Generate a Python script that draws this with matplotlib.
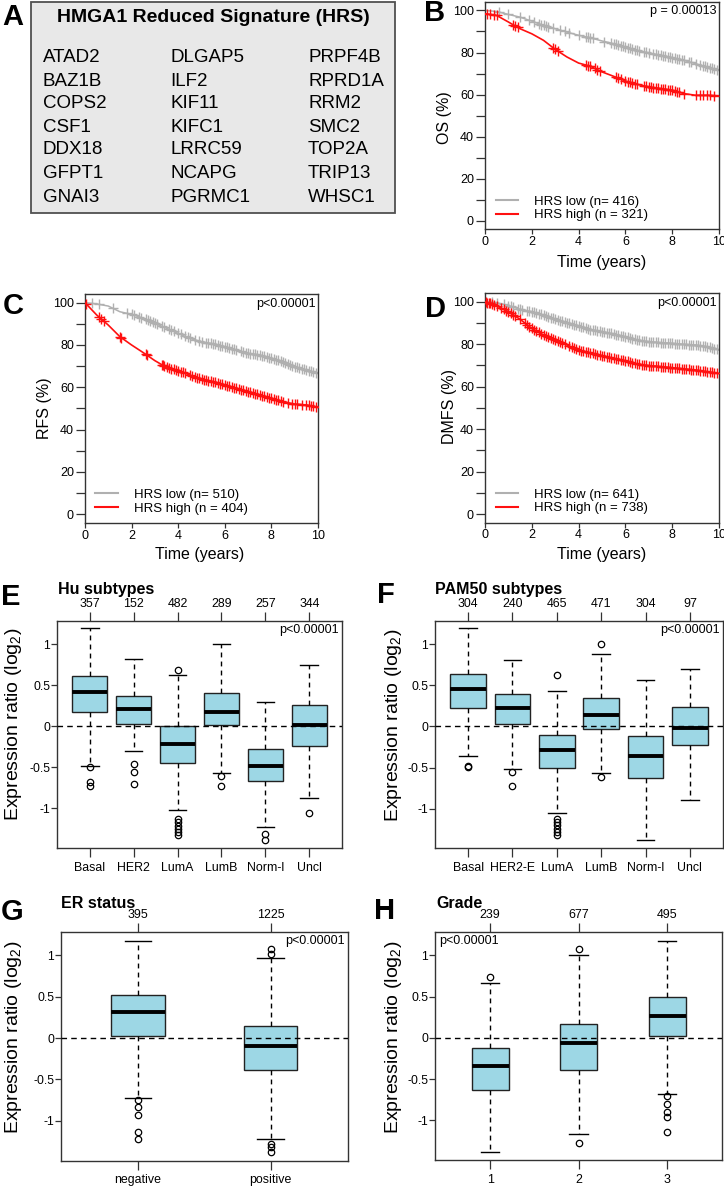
import matplotlib
matplotlib.use('Agg')
import matplotlib.pyplot as plt
import numpy as np
from matplotlib.lines import Line2D
from matplotlib.patches import Rectangle

plt.rcParams['font.family'] = ['Liberation Sans', 'DejaVu Sans']
plt.rcParams['mathtext.fontset'] = 'custom'
plt.rcParams['mathtext.rm'] = 'Liberation Sans'
plt.rcParams['mathtext.it'] = 'Liberation Sans:italic'

# ---------------- data ----------------
hrs_title = "HMGA1 Reduced Signature (HRS)"
genes_col1 = ["ATAD2", "BAZ1B", "COPS2", "CSF1", "DDX18", "GFPT1", "GNAI3"]
genes_col2 = ["DLGAP5", "ILF2", "KIF11", "KIFC1", "LRRC59", "NCAPG", "PGRMC1"]
genes_col3 = ["PRPF4B", "RPRD1A", "RRM2", "SMC2", "TOP2A", "TRIP13", "WHSC1"]

km_time = [0, 0.5, 1, 1.5, 2, 2.5, 3, 3.5, 4, 4.5, 5, 5.5, 6, 6.5, 7, 7.5, 8, 8.5, 9, 9.5, 10]

os_low = [100, 99.5, 98.1, 96.8, 94.9, 92.9, 91.3, 89.7, 88.2, 87.0, 85.5, 84.2, 82.6, 81.0, 79.8, 78.7, 77.6, 76.3, 74.7, 73.1, 71.6]
os_high = [98.5, 97.6, 94.5, 91.3, 88.9, 85.8, 81.5, 77.9, 75.0, 73.5, 70.8, 68.7, 66.5, 64.9, 63.7, 62.9, 62.1, 60.5, 59.7, 59.7, 59.5]
os_low_cens = [0.6, 1.0, 1.5, 1.9, 2.1, 2.3, 2.4, 2.5, 2.6, 2.7, 2.9, 3.2, 3.4, 3.6, 4.0, 4.3, 4.4, 4.5, 4.6, 5.1, 5.4, 5.5, 5.6, 5.7, 5.8, 5.9, 6.0, 6.1, 6.2, 6.3, 6.4, 6.5, 6.6, 6.8, 6.9, 7.0, 7.2, 7.3, 7.4, 7.5, 7.6, 7.7, 7.8, 7.9, 8.0, 8.1, 8.2, 8.3, 8.4, 8.5, 8.7, 8.8, 9.0, 9.2, 9.3, 9.4, 9.5, 9.6, 9.7, 9.8, 9.9]
os_high_cens = [0.1, 0.2, 0.4, 0.5, 1.2, 1.3, 1.4, 2.9, 3.0, 3.1, 4.3, 4.4, 4.5, 4.7, 4.8, 4.9, 5.6, 5.7, 5.8, 6.0, 6.1, 6.2, 6.3, 6.4, 6.5, 6.8, 6.9, 7.0, 7.1, 7.2, 7.3, 7.4, 7.5, 7.6, 7.7, 7.8, 7.9, 8.0, 8.1, 8.2, 8.3, 8.5, 9.0, 9.2, 9.3, 9.5, 9.6, 9.8]

rfs_low = [100, 99.4, 98.4, 95.7, 94.5, 92.6, 90.2, 87.9, 85.5, 83.1, 81.6, 80.5, 79.2, 77.6, 76.1, 75.3, 73.7, 72.1, 69.8, 68.2, 66.6]
rfs_high = [100, 94.2, 89.4, 83.9, 80.0, 76.4, 72.6, 69.4, 67.9, 65.8, 63.8, 62.7, 61.1, 59.5, 58.0, 56.4, 54.8, 53.2, 52.1, 51.7, 50.5]
rfs_low_cens = [0.3, 0.6, 1.2, 1.8, 2.0, 2.1, 2.3, 2.4, 2.6, 2.7, 2.8, 2.9, 3.0, 3.1, 3.3, 3.4, 3.6, 3.7, 3.8, 4.0, 4.1, 4.3, 4.4, 4.5, 4.7, 4.9, 5.0, 5.2, 5.3, 5.4, 5.5, 5.6, 5.7, 5.8, 5.9, 6.0, 6.1, 6.2, 6.3, 6.4, 6.5, 6.7, 6.8, 6.9, 7.0, 7.1, 7.2, 7.3, 7.4, 7.5, 7.6, 7.7, 7.8, 7.9, 8.0, 8.1, 8.2, 8.3, 8.4, 8.5, 8.6, 8.7, 8.8, 8.9, 9.0, 9.1, 9.2, 9.3, 9.4, 9.5, 9.6, 9.7, 9.8, 9.9]
rfs_high_cens = [0.05, 0.6, 0.7, 0.8, 1.5, 1.55, 2.6, 2.65, 3.3, 3.35, 3.4, 3.5, 3.6, 3.7, 3.8, 3.9, 4.0, 4.1, 4.2, 4.3, 4.5, 4.6, 4.7, 4.8, 4.9, 5.0, 5.1, 5.2, 5.3, 5.4, 5.5, 5.6, 5.7, 5.8, 5.9, 6.0, 6.1, 6.2, 6.3, 6.4, 6.5, 6.6, 6.7, 6.8, 6.9, 7.0, 7.1, 7.2, 7.3, 7.4, 7.5, 7.6, 7.7, 7.8, 7.9, 8.0, 8.1, 8.2, 8.3, 8.4, 8.5, 8.7, 8.9, 9.0, 9.1, 9.3, 9.5, 9.6, 9.7, 9.8, 9.9]

dmfs_low = [100, 99.5, 98.2, 96.4, 95.3, 93.7, 91.7, 90.1, 88.5, 86.9, 85.9, 84.8, 83.5, 81.9, 81.2, 80.7, 80.4, 79.9, 79.6, 78.8, 77.2]
dmfs_high = [100, 98.0, 95.3, 91.7, 87.4, 84.3, 81.9, 79.6, 77.2, 75.9, 74.6, 73.3, 72.2, 70.6, 69.9, 69.4, 68.9, 68.3, 67.8, 67.0, 66.2]
dmfs_low_cens = [0.3, 0.5, 0.8, 1.0, 1.1, 1.2, 1.4, 1.5, 1.6, 1.8, 1.9, 2.0, 2.1, 2.2, 2.3, 2.4, 2.5, 2.6, 2.7, 2.8, 2.9, 3.0, 3.1, 3.2, 3.3, 3.4, 3.5, 3.6, 3.7, 3.8, 3.9, 4.0, 4.1, 4.2, 4.3, 4.4, 4.5, 4.6, 4.7, 4.8, 4.9, 5.0, 5.1, 5.2, 5.3, 5.4, 5.5, 5.6, 5.7, 5.8, 5.9, 6.0, 6.1, 6.2, 6.3, 6.4, 6.5, 6.6, 6.7, 6.8, 6.9, 7.0, 7.1, 7.2, 7.3, 7.4, 7.5, 7.6, 7.7, 7.8, 7.9, 8.0, 8.1, 8.2, 8.3, 8.4, 8.5, 8.6, 8.7, 8.8, 8.9, 9.0, 9.1, 9.2, 9.3, 9.4, 9.5, 9.6, 9.7, 9.8, 9.9]
dmfs_high_cens = [0.05, 0.1, 0.15, 0.2, 0.3, 0.4, 0.5, 0.7, 0.8, 0.9, 1.0, 1.1, 1.2, 1.3, 1.5, 1.7, 1.8, 1.9, 2.0, 2.1, 2.2, 2.3, 2.4, 2.5, 2.6, 2.7, 2.8, 2.9, 3.0, 3.1, 3.2, 3.3, 3.4, 3.6, 3.7, 3.8, 3.9, 4.0, 4.1, 4.2, 4.3, 4.4, 4.5, 4.6, 4.7, 4.8, 4.9, 5.0, 5.1, 5.2, 5.3, 5.4, 5.5, 5.6, 5.7, 5.8, 5.9, 6.0, 6.1, 6.2, 6.3, 6.4, 6.5, 6.6, 6.7, 6.8, 6.9, 7.0, 7.1, 7.2, 7.3, 7.4, 7.5, 7.6, 7.7, 7.8, 7.9, 8.0, 8.1, 8.2, 8.3, 8.4, 8.5, 8.6, 8.7, 8.8, 8.9, 9.0, 9.1, 9.2, 9.3, 9.4, 9.5, 9.6, 9.7, 9.8, 9.9]

os_legend = ["HRS low (n= 416)", "HRS high (n = 321)"]
rfs_legend = ["HRS low (n= 510)", "HRS high (n = 404)"]
dmfs_legend = ["HRS low (n= 641)", "HRS high (n = 738)"]

hu_labels = ["Basal", "HER2", "LumA", "LumB", "Norm-l", "Uncl"]
hu_counts = [357, 152, 482, 289, 257, 344]
hu_med = [0.42, 0.21, -0.22, 0.17, -0.48, 0.02]
hu_q1 = [0.17, 0.03, -0.45, 0.01, -0.67, -0.24]
hu_q3 = [0.61, 0.37, 0.0, 0.41, -0.28, 0.26]
hu_lo = [-0.48, -0.30, -1.02, -0.57, -1.23, -0.88]
hu_hi = [1.20, 0.82, 0.62, 1.00, 0.30, 0.75]
hu_out = [[-0.50, -0.68, -0.73], [-0.46, -0.56, -0.71],
          [0.69, -1.13, -1.17, -1.21, -1.25, -1.29, -1.33],
          [-0.61, -0.73], [-1.31, -1.39], [-1.06]]

pam_labels = ["Basal", "HER2-E", "LumA", "LumB", "Norm-l", "Uncl"]
pam_counts = [304, 240, 465, 471, 304, 97]
pam_med = [0.46, 0.22, -0.29, 0.14, -0.36, -0.02]
pam_q1 = [0.23, 0.03, -0.51, -0.03, -0.63, -0.23]
pam_q3 = [0.64, 0.39, -0.10, 0.35, -0.12, 0.24]
pam_lo = [-0.36, -0.52, -1.05, -0.57, -1.38, -0.89]
pam_hi = [1.20, 0.81, 0.43, 0.88, 0.57, 0.70]
pam_out = [[-0.48, -0.49], [-0.55, -0.72],
           [0.63, -1.12, -1.16, -1.20, -1.24, -1.28, -1.32],
           [1.00, -0.61], [], []]

er_labels = ["negative", "positive"]
er_counts = [395, 1225]
er_med = [0.31, -0.10]
er_q1 = [0.03, -0.39]
er_q3 = [0.52, 0.15]
er_lo = [-0.73, -1.22]
er_hi = [1.17, 0.97]
er_out = [[-0.75, -0.83, -0.93, -1.13, -1.22], [1.07, 1.01, -1.28, -1.32, -1.38]]

gr_labels = ["1", "2", "3"]
gr_counts = [239, 677, 495]
gr_med = [-0.34, -0.06, 0.27]
gr_q1 = [-0.63, -0.39, 0.02]
gr_q3 = [-0.12, 0.17, 0.49]
gr_lo = [-1.38, -1.17, -0.68]
gr_hi = [0.66, 1.00, 1.17]
gr_out = [[0.74], [1.07, -1.28], [-0.71, -0.80, -0.90, -0.96, -1.14]]

# ---------------- layout helpers ----------------
W, H = 724, 1186
fig = plt.figure(figsize=(W / 100, H / 100), dpi=100)
fig.patch.set_facecolor('white')


def add_ax(x0, y0, x1, y1):
    return fig.add_axes([x0 / W, 1 - y1 / H, (x1 - x0) / W, (y1 - y0) / H])


def ftext(x, y, s, **kw):
    return fig.text(x / W, 1 - y / H, s, **kw)


GRAY = '#b0b0b0'
RED = '#ff1010'
BOXC = '#9dd7e5'
FRAME = '#333333'

# ---------------- Panel A ----------------
axA = add_ax(31, 2, 395, 213)
axA.set_xlim(31, 395)
axA.set_ylim(213, 2)
axA.axis('off')
axA.add_patch(Rectangle((0, 0), 1, 1, transform=axA.transAxes, fc='#e8e8e8',
                        ec='#505050', lw=1.3, clip_on=False))
axA.text(213, 17, hrs_title, ha='center', va='center', fontsize=14, fontweight='bold')
row_y = [58, 81, 104, 127, 150, 173, 197]
for col, x in ((genes_col1, 43), (genes_col2, 170), (genes_col3, 308)):
    for g, y in zip(col, row_y):
        axA.text(x, y, g, ha='left', va='center', fontsize=13.5)

# ---------------- KM panels ----------------


def km_panel(box, low, high, low_c, high_c, legend, ptext):
    ax = add_ax(*box)
    t = np.array(km_time)
    ax.plot(t, low, color=GRAY, lw=1.1, zorder=2)
    ax.plot(low_c, np.interp(low_c, t, low), ls='none', marker='+', ms=6.5,
            mew=1.0, color=GRAY, zorder=2)
    ax.plot(t, high, color=RED, lw=1.2, zorder=3)
    ax.plot(high_c, np.interp(high_c, t, high), ls='none', marker='+', ms=6.5,
            mew=1.0, color=RED, zorder=3)
    ax.set_xlim(0, 10)
    ax.set_ylim(-4, 104)
    ax.set_xticks([0, 2, 4, 6, 8, 10])
    ax.set_yticks([0, 20, 40, 60, 80, 100])
    ax.set_yticks([10, 30, 50, 70, 90], minor=True)
    ax.tick_params(axis='y', which='both', direction='out', length=6.5, width=0.9,
                   pad=1.5, labelsize=9, color=FRAME)
    ax.tick_params(axis='x', direction='out', length=3.5, width=0.9, pad=1.5,
                   labelsize=9, color=FRAME)
    for s in ax.spines.values():
        s.set_color(FRAME)
        s.set_linewidth(1.0)
    handles = [Line2D([], [], color=GRAY, lw=1.5), Line2D([], [], color=RED, lw=1.5)]
    ax.legend(handles, legend, loc='lower left', bbox_to_anchor=(0.045, 0.035),
              frameon=False, fontsize=9.5, handlelength=1.7, handletextpad=1.2,
              labelspacing=0.12, borderpad=0, borderaxespad=0)
    ax.text(0.99, 0.985, ptext, transform=ax.transAxes, ha='right', va='top', fontsize=9)
    return ax


km_panel((485, 2, 719, 229.4), os_low, os_high, os_low_cens, os_high_cens, os_legend, "p = 0.00013")
km_panel((85, 294.2, 318, 522.8), rfs_low, rfs_high, rfs_low_cens, rfs_high_cens, rfs_legend, "p<0.00001")
km_panel((485, 293.2, 719, 522.5), dmfs_low, dmfs_high, dmfs_low_cens, dmfs_high_cens, dmfs_legend, "p<0.00001")

ftext(445, 118, "OS (%)", rotation=90, ha='center', va='center', fontsize=11.5)
ftext(45, 408, "RFS (%)", rotation=90, ha='center', va='center', fontsize=11.5)
ftext(449, 407, "DMFS (%)", rotation=90, ha='center', va='center', fontsize=11.5)
ftext(602, 262, "Time (years)", ha='center', va='center', fontsize=11.5)
ftext(200, 555, "Time (years)", ha='center', va='center', fontsize=11.5)
ftext(602, 554, "Time (years)", ha='center', va='center', fontsize=11.5)

# ---------------- Box panels ----------------


def box_panel(box, labels, counts, med, q1, q3, lo, hi, out, width, ptext, pleft=False):
    ax = add_ax(*box)
    n = len(labels)
    pos = list(range(1, n + 1))
    stats = [dict(med=med[i], q1=q1[i], q3=q3[i], whislo=lo[i], whishi=hi[i],
                  fliers=out[i]) for i in range(n)]
    ax.bxp(stats, positions=pos, widths=width, capwidths=[width * 0.5] * n,
           patch_artist=True, manage_ticks=False,
           boxprops=dict(facecolor=BOXC, edgecolor='#222222', linewidth=1.0),
           medianprops=dict(color='black', linewidth=2.8, solid_capstyle='butt'),
           whiskerprops=dict(color='black', linewidth=1.0, linestyle=(0, (3.5, 3))),
           capprops=dict(color='black', linewidth=1.0),
           flierprops=dict(marker='o', markerfacecolor='none', markeredgecolor='black',
                           markersize=4.6, markeredgewidth=0.9))
    ax.axhline(0, color='black', lw=1.0, ls=(0, (4, 3)), zorder=6)
    ax.set_xlim(0.5 - 0.04 * n, n + 0.5 + 0.04 * n)
    ax.set_ylim(-1.48, 1.285)
    ax.set_yticks([-1, -0.5, 0, 0.5, 1])
    ax.set_yticklabels(['-1', '-0.5', '0', '0.5', '1'])
    ax.set_xticks(pos)
    ax.set_xticklabels(labels)
    ax.tick_params(axis='y', direction='out', length=4, width=0.9, pad=1,
                   labelsize=8.7, color=FRAME)
    ax.tick_params(axis='x', direction='out', length=6.5, width=0.9, pad=3.5,
                   labelsize=8.9, color=FRAME)
    sec = ax.secondary_xaxis('top')
    sec.set_xticks(pos)
    sec.set_xticklabels([str(c) for c in counts])
    sec.tick_params(direction='out', length=6.5, width=0.9, pad=1, labelsize=8.9, color=FRAME)
    sec.spines['top'].set_visible(False)
    for s in ax.spines.values():
        s.set_color(FRAME)
        s.set_linewidth(1.0)
    if pleft:
        ax.text(0.012, 0.985, ptext, transform=ax.transAxes, ha='left', va='top', fontsize=9)
    else:
        ax.text(0.99, 0.985, ptext, transform=ax.transAxes, ha='right', va='top', fontsize=9)
    return ax


box_panel((57.3, 620.7, 341.7, 847.7), hu_labels, hu_counts, hu_med, hu_q1, hu_q3,
          hu_lo, hu_hi, hu_out, 0.8, "p<0.00001")
box_panel((435.3, 620.7, 722.7, 848.3), pam_labels, pam_counts, pam_med, pam_q1, pam_q3,
          pam_lo, pam_hi, pam_out, 0.8, "p<0.00001")
box_panel((61, 931.7, 347.7, 1160.5), er_labels, er_counts, er_med, er_q1, er_q3,
          er_lo, er_hi, er_out, 0.4, "p<0.00001")
box_panel((435.3, 931.7, 722, 1160), gr_labels, gr_counts, gr_med, gr_q1, gr_q3,
          gr_lo, gr_hi, gr_out, 0.42, "p<0.00001", pleft=True)

ylab = r"Expression ratio (log$_\mathrm{2}$)"
ftext(14, 724, ylab, rotation=90, ha='center', va='center', fontsize=14)
ftext(393, 725, ylab, rotation=90, ha='center', va='center', fontsize=14)
ftext(14, 1037, ylab, rotation=90, ha='center', va='center', fontsize=14)
ftext(393, 1037, ylab, rotation=90, ha='center', va='center', fontsize=14)

ftext(58, 590, "Hu subtypes", ha='left', va='center', fontsize=11.5, fontweight='bold')
ftext(435, 590, "PAM50 subtypes", ha='left', va='center', fontsize=11.5, fontweight='bold')
ftext(61, 904, "ER status", ha='left', va='center', fontsize=11.5, fontweight='bold')
ftext(436, 904, "Grade", ha='left', va='center', fontsize=11.5, fontweight='bold')

# ---------------- Panel letters ----------------
for letter, x, y in (("A", 13, 17), ("B", 435, 13), ("C", 13, 306), ("D", 435, 309),
                     ("E", 11, 597), ("F", 386, 595), ("G", 12, 912), ("H", 385, 911)):
    ftext(x, y, letter, ha='center', va='center', fontsize=21, fontweight='bold')

fig.savefig('out.png', dpi=100)
